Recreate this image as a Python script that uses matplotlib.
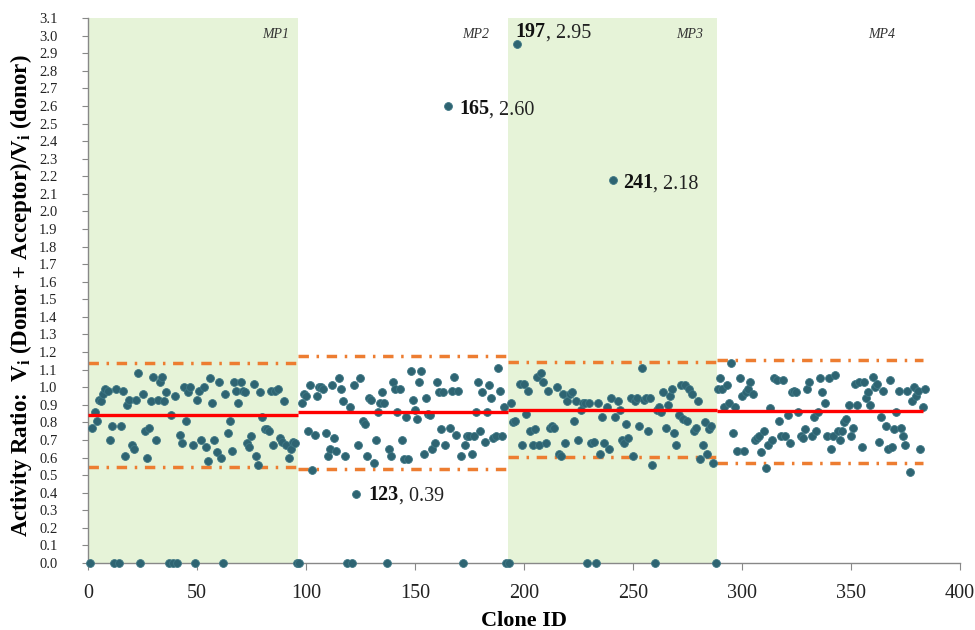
import matplotlib
matplotlib.use("Agg")
import matplotlib.pyplot as plt
import numpy as np

plt.rcParams['font.family'] = ['Liberation Serif', 'DejaVu Serif']
plt.rcParams['lines.scale_dashes'] = False

# ---- data: activity ratio per clone (clone IDs 1..384, 4 plates of 96) ----
mp1_values = [
    0.00, 0.77, 0.86, 0.81, 0.93, 0.92, 0.96, 0.99, 0.98, 0.70, 0.78, 0.00,
    0.99, 0.00, 0.78, 0.98, 0.61, 0.90, 0.93, 0.67, 0.65, 0.93, 1.08, 0.00,
    0.96, 0.75, 0.60, 0.77, 0.92, 1.06, 0.70, 0.93, 1.03, 1.06, 0.92, 0.97,
    0.00, 0.84, 0.00, 0.95, 0.00, 0.73, 0.68, 1.00, 0.81, 0.97, 1.00, 0.67,
    0.00, 0.93, 0.98, 0.70, 1.00, 0.66, 0.58, 1.05, 0.91, 0.70, 0.63, 1.03,
    0.60, 0.00, 0.96, 0.74, 0.81, 0.64, 1.03, 0.98, 0.91, 1.03, 0.98, 0.97,
    0.68, 0.66, 0.72, 1.02, 0.61, 0.56, 0.97, 0.83, 0.76, 0.76, 0.75, 0.98,
    0.67, 0.98, 0.99, 0.71, 0.69, 0.92, 0.67, 0.60, 0.65, 0.69, 0.68, 0.00,
]
mp2_values = [
    0.00, 0.91, 0.96, 0.95, 0.75, 1.01, 0.53, 0.73, 0.95, 1.00, 1.00, 0.99,
    0.74, 0.61, 0.65, 1.01, 0.71, 0.64, 1.05, 0.99, 0.92, 0.61, 0.00, 0.89,
    0.00, 1.01, 0.39, 0.67, 1.05, 0.81, 0.79, 0.61, 0.94, 0.93, 0.57, 0.70,
    0.86, 0.91, 0.97, 0.91, 0.00, 0.65, 0.61, 1.03, 0.99, 0.86, 0.99, 0.70,
    0.59, 0.83, 0.59, 1.09, 0.93, 0.87, 0.82, 1.03, 1.09, 0.62, 0.94, 0.85,
    0.84, 0.65, 0.68, 1.03, 0.97, 0.76, 0.97, 0.67, 2.60, 0.77, 0.98, 1.06,
    0.73, 0.98, 0.61, 0.00, 0.67, 0.72, 0.72, 0.62, 0.72, 0.86, 1.03, 0.75,
    0.97, 0.69, 0.86, 1.01, 0.94, 0.71, 0.72, 1.11, 0.98, 0.72, 0.89, 0.00,
]
mp3_values = [
    0.00, 0.91, 0.80, 0.81, 2.95, 1.02, 0.67, 1.02, 0.85, 0.98, 0.75, 0.67,
    0.76, 1.06, 0.67, 1.08, 1.03, 0.68, 0.98, 0.77, 0.78, 0.77, 1.00, 0.62,
    0.61, 0.96, 0.68, 0.92, 0.96, 0.97, 0.81, 0.92, 0.70, 0.87, 0.91, 0.91,
    0.00, 0.91, 0.68, 0.69, 0.00, 0.91, 0.62, 0.83, 0.68, 0.89, 0.65, 0.94,
    2.18, 0.83, 0.92, 0.87, 0.70, 0.68, 0.79, 0.71, 0.94, 0.61, 0.92, 0.94,
    0.78, 1.11, 0.93, 0.94, 0.75, 0.94, 0.56, 0.00, 0.87, 0.89, 0.86, 0.97,
    0.77, 0.90, 0.95, 0.99, 0.74, 0.67, 0.84, 1.01, 0.82, 1.01, 0.81, 0.99,
    0.96, 0.75, 0.77, 0.92, 0.59, 0.67, 0.80, 0.62, 0.76, 0.78, 0.57, 0.00,
]
mp4_values = [
    0.99, 1.05, 0.99, 0.89, 1.01, 0.91, 1.14, 0.74, 0.89, 0.64, 1.05, 0.95,
    0.64, 0.97, 0.99, 1.03, 0.96, 0.70, 0.71, 0.72, 0.63, 0.75, 0.54, 0.67,
    0.88, 0.70, 1.05, 1.04, 0.81, 0.72, 1.04, 0.72, 0.84, 0.68, 0.97, 0.98,
    0.97, 0.86, 0.72, 0.71, 0.76, 0.99, 1.03, 0.72, 0.83, 0.75, 0.86, 1.05,
    0.97, 0.91, 0.72, 1.05, 0.65, 0.72, 1.07, 0.75, 0.70, 0.75, 0.80, 0.82,
    0.90, 0.72, 0.77, 1.02, 0.90, 1.03, 0.66, 1.03, 0.94, 0.97, 0.90, 1.06,
    1.00, 1.02, 0.69, 0.83, 0.98, 0.78, 0.65, 1.04, 0.66, 0.76, 0.86, 0.98,
    0.77, 0.72, 0.67, 0.98, 0.52, 0.92, 1.00, 0.95, 0.98, 0.65, 0.89, 0.99,
]

plate_names = ["MP1", "MP2", "MP3", "MP4"]
plate_mean = [0.84, 0.857, 0.87, 0.862]
plate_upper = [1.14, 1.175, 1.145, 1.155]
plate_lower = [0.548, 0.535, 0.603, 0.57]

outlier_ids = [197, 165, 241, 123]
outlier_vals = [2.95, 2.60, 2.18, 0.39]

x_ticks = [0, 50, 100, 150, 200, 250, 300, 350, 400]
y_ticks = [round(0.1 * i, 1) for i in range(32)]

ratio = mp1_values + mp2_values + mp3_values + mp4_values
clone_id = np.arange(1, len(ratio) + 1)

# ---- figure ----
fig = plt.figure(figsize=(9.75, 6.3), dpi=100)
ax = fig.add_axes([0.0903, 0.1063, 0.894, 0.8651])

ax.set_xlim(0, 400)
ax.set_ylim(0, 3.1)

green = '#E6F3D8'
plate_edges = [(0, 96.5), (96.5, 192.5), (192.5, 288.5), (288.5, 383.0)]
for i, (a, b) in enumerate(plate_edges):
    if i in (0, 2):
        ax.axvspan(a, b, color=green, zorder=0, lw=0)

orange = '#ED7D31'
for i, (a, b) in enumerate(plate_edges):
    for yv in (plate_upper[i], plate_lower[i]):
        ax.plot([a, b], [yv, yv], color=orange, lw=2.5,
                dashes=(7.5, 5.5, 1.8, 5.5), zorder=2, dash_capstyle='butt')

ax.scatter(clone_id, ratio, s=32, color='#2E6472', edgecolors='#3F7885',
           linewidths=0.6, zorder=3, clip_on=False)

for i, (a, b) in enumerate(plate_edges):
    ax.plot([a, b], [plate_mean[i]] * 2, color='#FF0000', lw=2.4, zorder=4,
            solid_capstyle='butt')

mp_x = [86, 178, 276, 364]
for name, xx in zip(plate_names, mp_x):
    ax.text(xx, 3.005, name, fontsize=10, style='italic', ha='center',
            va='center', color='#333333')

label_pos = {197: (196.3, 3.02), 165: (170.3, 2.58),
             241: (245.6, 2.16), 123: (128.7, 0.385)}
for cid, val in zip(outlier_ids, outlier_vals):
    tx, ty = label_pos[cid]
    t1 = ax.text(tx, ty, str(cid), fontsize=14.5, fontweight='bold',
                 ha='left', va='center', color='#111111', zorder=5)
    ax.annotate(f", {val:.2f}", xy=(1, 0), xycoords=t1, fontsize=14.5,
                ha='left', va='bottom', color='#222222', zorder=5)

ax.set_xticks(x_ticks)
ax.set_yticks(y_ticks)
ax.set_yticklabels([f"{v:.1f}" for v in y_ticks])
ax.tick_params(axis='x', labelsize=14.5, length=5, color='#888888',
               direction='out', pad=10, labelcolor='#222222')
ax.tick_params(axis='y', labelsize=10.5, length=4, color='#888888',
               direction='out', pad=18, labelcolor='#222222')

for s in ('top', 'right'):
    ax.spines[s].set_visible(False)
for s in ('left', 'bottom'):
    ax.spines[s].set_color('#888888')
    ax.spines[s].set_linewidth(1.0)

ax.set_xlabel('Clone ID', fontsize=16, fontweight='bold')
ax.xaxis.set_label_coords(0.5, -0.088)
ax.set_ylabel(r'Activity Ratio:  V$_\mathregular{i}$ (Donor + Acceptor)/V$_\mathregular{i}$ (donor)',
              fontsize=16.5, fontweight='bold')
ax.yaxis.set_label_coords(-0.062, 0.49)

fig.savefig('out.png', dpi=100)
